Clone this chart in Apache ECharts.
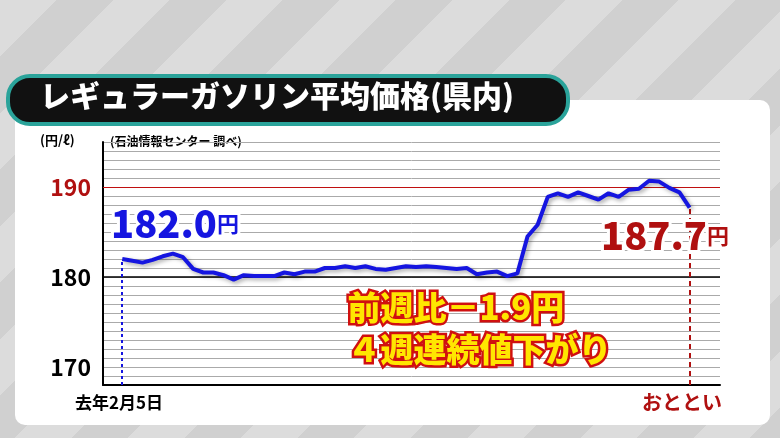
<!DOCTYPE html><html><head><meta charset="utf-8"><script src="https://cdn.jsdelivr.net/npm/echarts@6/dist/echarts.min.js"></script>
<style>html,body{margin:0;padding:0;}#c{width:780px;height:438px;background:repeating-linear-gradient(135deg,#dcdcdc 0 40px,#d0d0d0 40px 80px);}</style></head><body><div id="c"></div>
<script>
const title = 'レギュラーガソリン平均価格(県内)';
const yTicks = [170, 180, 190];
const prices = [182.0,181.8,181.6,181.9,182.3,182.6,182.2,180.9,180.5,180.5,180.2,179.7,180.2,180.1,180.1,180.1,180.5,180.3,180.6,180.6,181.0,181.0,181.2,181.0,181.2,180.9,180.8,181.0,181.2,181.1,181.2,181.1,181.0,180.9,181.0,180.3,180.5,180.6,180.1,180.4,184.5,185.8,188.9,189.3,188.9,189.4,189.0,188.6,189.3,188.9,189.7,189.8,190.7,190.6,189.9,189.4,187.7];
const startLabel = '去年2月5日', endLabel = 'おととい';
const unitText = '(円/ℓ)', srcText = '(石油情報センター 調べ)';
const last = prices.length - 1;
const chart = echarts.init(document.getElementById('c'));
const F = '"Noto Sans CJK JP", sans-serif';
chart.setOption({
  animation: false,
  grid: {left: 103, right: 60, top: 142, bottom: 53},
  xAxis: {type: 'value', min: -1.9, max: 59, splitLine: {show: false},
    axisLine: {onZero: false, lineStyle: {color: '#000', width: 2}}, axisTick: {show: false}, axisLabel: {show: false}},
  yAxis: {type: 'value', min: 168, max: 195, interval: 1,
    axisLine: {show: true, onZero: false, lineStyle: {color: '#000', width: 2}}, axisTick: {show: false},
    axisLabel: {fontFamily: F, fontSize: 23, fontWeight: 'bold', margin: 12,
      formatter: v => yTicks.includes(v) ? String(v) : '',
      color: v => v == 190 ? '#b01010' : '#000'},
    splitLine: {lineStyle: {width: 1, color: ['#aaa']}}},
  series: [{type: 'line', data: prices.map((v, i) => [i, v]), symbol: 'none', z: 5,
    lineStyle: {color: '#1515e0', width: 4, shadowColor: 'rgba(0,0,0,0.35)', shadowBlur: 4, shadowOffsetX: 2, shadowOffsetY: 2}},
   {type: 'line', data: [], markLine: {silent: true, symbol: 'none', label: {show: false},
      data: [
        {yAxis: 180, lineStyle: {color: '#000', width: 1.5, type: 'solid'}},
        {yAxis: 190, lineStyle: {color: '#c01010', width: 1.2, type: 'solid'}},
        [{coord: [0, 168], lineStyle: {color: '#1515e0', width: 2, type: [3, 3]}}, {coord: [0, 182.0]}],
        [{coord: [last, 168], lineStyle: {color: '#b01010', width: 2, type: [5, 4]}}, {coord: [last, 187.7]}]
      ]}}],
  graphic: [
    {type: 'rect', z: -10, shape: {x: 15, y: 100, width: 755, height: 325, r: 10}, style: {fill: '#fff'}},
    {type: 'rect', z: 1, shape: {x: 8, y: 76, width: 560, height: 48, r: 22}, style: {fill: '#111', stroke: '#2aa39a', lineWidth: 4}},
    {type: 'text', z: 2, left: 40, top: 81, style: {text: title, font: '900 30px ' + F, fill: '#fff'}},
    {type: 'text', left: 40, top: 134, style: {text: unitText, font: 'bold 13px ' + F, fill: '#000'}},
    {type: 'text', left: 110, top: 135, style: {text: srcText, font: 'bold 12px ' + F, fill: '#000'}},
    {type: 'text', left: 75, top: 394, style: {text: startLabel, font: 'bold 17px ' + F, fill: '#000'}},
    {type: 'text', left: 642, top: 392, style: {text: endLabel, font: 'bold 20px ' + F, fill: '#b01010'}},
    {type: 'text', z: 10, left: 108, top: 202, style: {rich: {a: {font: '900 38px ' + F, fill: '#1515e0'}, b: {font: 'bold 22px ' + F, fill: '#1515e0'}}, text: '{a|182.0}{b|円}', stroke: '#fff', lineWidth: 6}},
    {type: 'text', z: 10, left: 598, top: 214, style: {rich: {a: {font: '900 38px ' + F, fill: '#b01010'}, b: {font: 'bold 22px ' + F, fill: '#b01010'}}, text: '{a|187.7}{b|円}', stroke: '#fff', lineWidth: 6}},
    {type: 'text', z: 10, left: 345, top: 288, style: {text: '前週比－1.9円', font: '900 33px ' + F, fill: '#ffe600', stroke: '#d01010', lineWidth: 5}},
    {type: 'text', z: 10, left: 345, top: 330, style: {text: '４週連続値下がり', font: '900 33px ' + F, fill: '#ffe600', stroke: '#d01010', lineWidth: 5}}
  ]
});
</script></body></html>
